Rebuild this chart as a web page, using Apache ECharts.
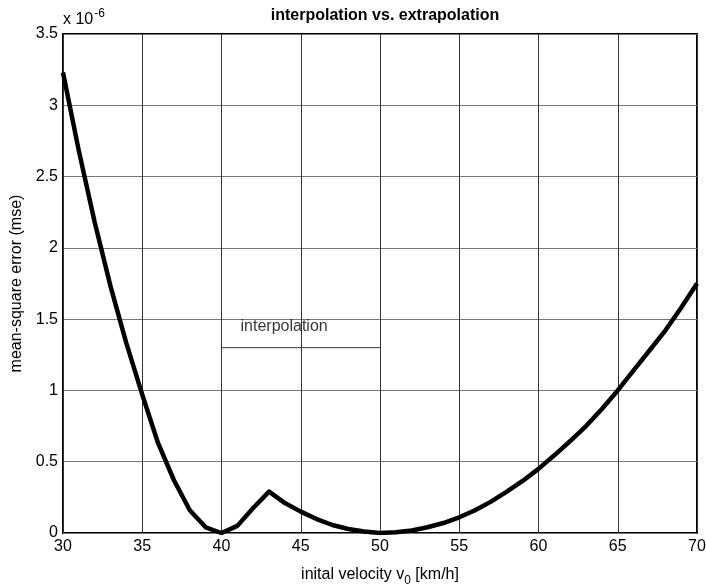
<!DOCTYPE html>
<html>
<head>
<meta charset="utf-8">
<script src="https://cdn.jsdelivr.net/npm/echarts@6/dist/echarts.min.js"></script>
<style>
  html, body { margin: 0; padding: 0; background: #fff; }
  #chart { width: 706px; height: 585px; }
</style>
</head>
<body>
<div id="chart"></div>
<script>
// initial velocity [km/h]
var velocity = [30, 31, 32, 33, 34, 35, 36, 37, 38, 39, 40, 41, 42, 43, 44, 45, 46, 47, 48, 49,
                50, 51, 52, 53, 54, 55, 56, 57, 58, 59, 60, 61, 62, 63, 64, 65, 66, 67, 68, 69, 70];
// mean-square error, in units of 1e-6
var mse = [3.23, 2.68, 2.18, 1.73, 1.33, 0.97, 0.63, 0.37, 0.16, 0.04,
           0.0, 0.05, 0.175, 0.29, 0.21, 0.15, 0.098, 0.056, 0.028, 0.01,
           0.0, 0.005, 0.018, 0.04, 0.07, 0.11, 0.16, 0.22, 0.29, 0.365,
           0.45, 0.545, 0.645, 0.75, 0.87, 1.0, 1.14, 1.28, 1.42, 1.58, 1.75];
// interpolation range marker
var interpRange = [40, 50];
var interpLevel = 1.3;
var interpText = 'interpolation';

var chart = echarts.init(document.getElementById('chart'));
var font = 'Liberation Sans, Arial, Helvetica, sans-serif';

chart.setOption({
    animation: false,
    textStyle: { fontFamily: font },
    title: {
        text: 'interpolation vs. extrapolation',
        left: 380, textAlign: 'center', top: 3,
        textStyle: { fontFamily: font, fontSize: 16, fontWeight: 'bold', color: '#000' }
    },
    grid: {
        left: 63, right: 9, top: 34, bottom: 52,
        outerBoundsMode: 'none',
        show: true, borderColor: '#000', borderWidth: 2
    },
    xAxis: {
        type: 'value', min: 30, max: 70, interval: 5,
        name: 'inital velocity v{sub|0} [km/h]',
        nameLocation: 'middle', nameGap: 30,
        nameTextStyle: {
            fontSize: 16, color: '#000', fontFamily: font,
            rich: { sub: { fontSize: 12, fontFamily: font, color: '#000', padding: [12, 0, 0, 0] } }
        },
        axisLine: { show: false },
        axisTick: { show: false },
        axisLabel: { fontSize: 16, color: '#000', margin: 6, fontFamily: font },
        splitLine: { lineStyle: { color: '#333', width: 1 } }
    },
    yAxis: {
        type: 'value', min: 0, max: 3.5, interval: 0.5,
        name: 'mean-square error (mse)',
        nameLocation: 'middle', nameGap: 33, nameRotate: 90,
        nameTextStyle: { fontSize: 16, color: '#000', fontFamily: font },
        axisLine: { show: false },
        axisTick: { show: false },
        axisLabel: { fontSize: 16, color: '#000', margin: 5, fontFamily: font },
        splitLine: { lineStyle: { color: '#777', width: 1 } }
    },
    graphic: [{
        type: 'text', left: 63, top: 8,
        style: {
            text: 'x 10{sup|-6}',
            font: '16px ' + font, fill: '#000',
            rich: { sup: { font: '12px ' + font, fill: '#000', padding: [0, 0, 12, 1] } }
        }
    }],
    series: [
        {
            type: 'line',
            data: interpRange.map(function (x) { return [x, interpLevel]; }),
            showSymbol: false, silent: true,
            lineStyle: { color: '#333', width: 1 }
        },
        {
            type: 'scatter',
            data: [[interpRange[0] + 1.2, interpLevel + 0.145]],
            symbolSize: 0, silent: true,
            label: {
                show: true, position: 'right', distance: 0,
                formatter: interpText,
                fontSize: 16, color: '#000', fontFamily: font
            }
        },
        {
            type: 'line',
            data: velocity.map(function (v, i) { return [v, mse[i]]; }),
            showSymbol: false, silent: true, z: 5,
            lineStyle: { color: '#000', width: 4.5, join: 'round' }
        }
    ]
});
</script>
</body>
</html>
